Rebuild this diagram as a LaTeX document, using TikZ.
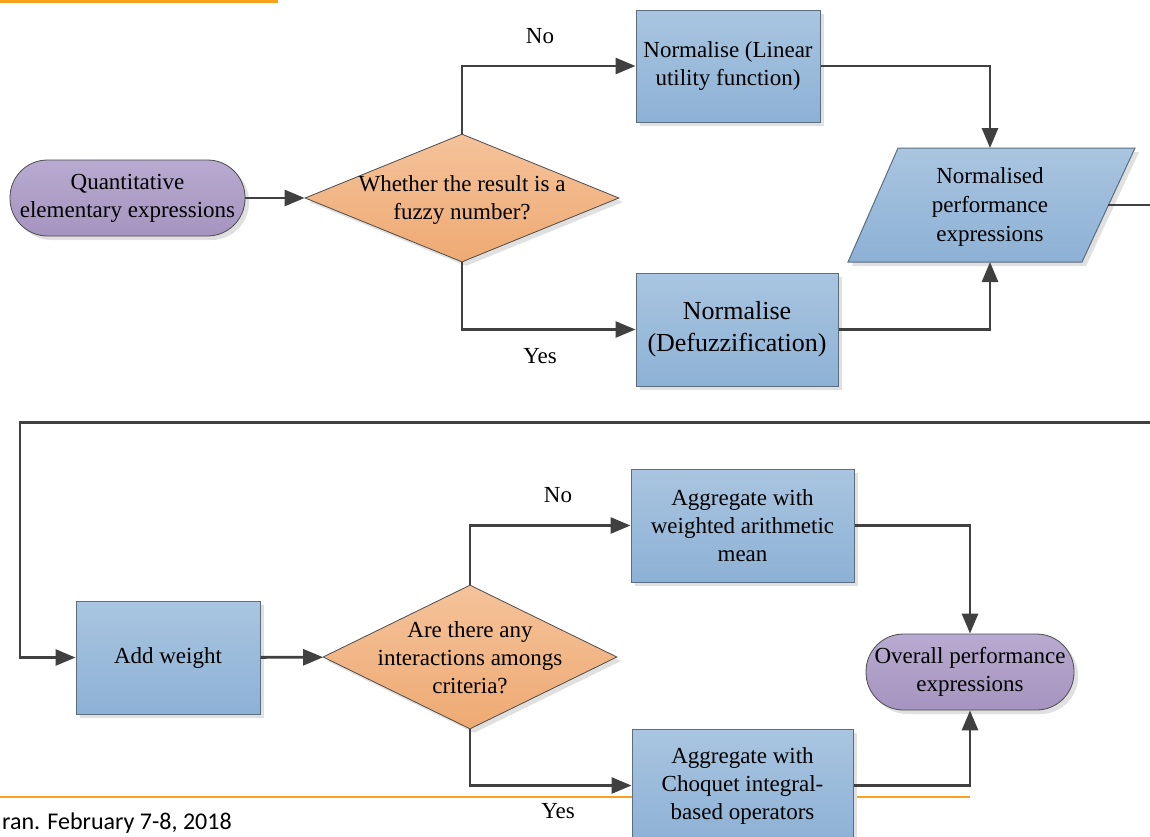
\documentclass[tikz,border=0pt]{standalone}
\usepackage{fontspec}
\setmainfont{Liberation Serif}
\setsansfont{Carlito}
\usetikzlibrary{arrows.meta,shapes.geometric,shadows}
\definecolor{linec}{HTML}{404040}
\definecolor{bluetop}{HTML}{A9C5E0}
\definecolor{bluebot}{HTML}{8DB1D5}
\definecolor{blueborder}{HTML}{5B6E80}
\definecolor{orangetop}{HTML}{F5C29A}
\definecolor{orangebot}{HTML}{EEAA73}
\definecolor{purptop}{HTML}{B8AAD0}
\definecolor{purpbot}{HTML}{A594BF}
\definecolor{accent}{HTML}{F9A11B}
\begin{document}
\begin{tikzpicture}[x=1pt,y=-1pt,
  every node/.style={font=\fontsize{23}{28}\selectfont, inner sep=0pt},
  shad/.style={drop shadow={shadow xshift=4pt,shadow yshift=-4pt,fill=black!12,opacity=1}},
  procbox/.style={shad, draw=blueborder, line width=1pt, top color=bluetop, bottom color=bluebot, align=center},
  decbox/.style={shad, diamond, draw=black!70, line width=0.8pt, top color=orangetop, bottom color=orangebot},
  termbox/.style={shad, draw=black!70, line width=0.8pt, top color=purptop, bottom color=purpbot, rounded corners=37.5pt, minimum height=76pt, align=center},
  conn/.style={draw=linec, line width=2.8pt, -{Triangle[length=20pt,width=16pt]}},
  lbl/.style={align=center}
]
\clip (0,0) rectangle (1150,836);
\fill[white] (0,0) rectangle (1150,836);

% decorative lines and footer
\draw[accent, line width=3pt] (0,1) -- (278,1);
\draw[accent, line width=2pt] (0,797) -- (970,797);
\node[anchor=base west, font=\sffamily\fontsize{24}{29}\selectfont] (footer) at (2,829) {ran. February 7-8, 2018};

% top half
\node[termbox, minimum width=235pt] (start) at (127.5,198) {Quantitative\\elementary expressions};
\node[decbox, minimum width=314pt, minimum height=128pt] (d1) at (462,198) {};
\node[lbl] (d1t) at (462,199.5) {Whether the result is a\\fuzzy number?};
\node[procbox, minimum width=184pt, minimum height=112pt] (b1) at (728,66) {Normalise (Linear\\utility function)};
\node[procbox, minimum width=202pt, minimum height=113pt, font=\fontsize{26}{32}\selectfont] (b2) at (737,329.5) {Normalise\\(Defuzzification)};
\path[shad, draw=blueborder, line width=1pt, top color=bluetop, bottom color=bluebot]
  (848,262) -- (898,148) -- (1135,148) -- (1082,262) -- cycle;
\node[lbl, font=\fontsize{23}{29}\selectfont] (pp) at (990,207) {Normalised\\performance\\expressions};
\coordinate (pptop) at (990,148);
\coordinate (ppbot) at (990,262);
\coordinate (ppr) at (1108,205);
\coordinate (r1) at (1170,205);
\coordinate (r2) at (1170,422.5);
\coordinate (l1) at (20,422.5);
\node (no1) at (540,36) {No};
\node (yes1) at (540,356) {Yes};

% bottom half
\node[procbox, minimum width=184pt, minimum height=113pt] (aw) at (168,657.5) {Add weight};
\node[decbox, minimum width=294pt, minimum height=144pt] (d2) at (470,657) {};
\node[lbl] (d2t) at (470,658) {Are there any\\interactions amongs\\criteria?};
\node[procbox, minimum width=223pt, minimum height=113pt] (b3) at (742.5,525.5) {Aggregate with\\weighted arithmetic\\mean};
\node[procbox, minimum width=221pt, minimum height=113pt] (b4) at (742.5,785.5) {Aggregate with\\Choquet integral-\\based operators};
\node[termbox, minimum width=208pt] (end) at (970,672) {Overall performance\\expressions};
\node (no2) at (558,495) {No};
\node (yes2) at (558,811) {Yes};

% connectors
\draw[conn] (start) -- (d1);
\draw[conn] (d1.north) |- (b1.west);
\draw[conn] (d1.south) |- (b2.west);
\draw[conn] (b1.east) -| (pptop);
\draw[conn] (b2.east) -| (ppbot);
\draw[conn] (ppr) -- (r1) -- (r2) -- (l1) |- (aw.west);
\draw[conn] (aw) -- (d2);
\draw[conn] (d2.north) |- (b3.west);
\draw[conn] (d2.south) |- (b4.west);
\draw[conn] (b3.east) -| (end.north);
\draw[conn] (b4.east) -| (end.south);
\end{tikzpicture}
\end{document}
